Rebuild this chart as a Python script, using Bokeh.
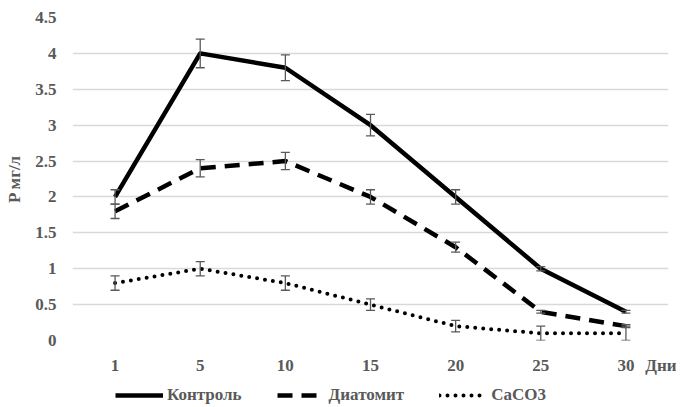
from bokeh.plotting import figure
from bokeh.models import Range1d, FixedTicker, Legend, LegendItem
from bokeh.layouts import column
from bokeh.embed import file_html
from bokeh.resources import INLINE

days = ["1", "5", "10", "15", "20", "25", "30"]
x_unit_label = "Дни"
kontrol = [2.0, 4.0, 3.8, 3.0, 2.0, 1.0, 0.4]
kontrol_err = [0.1, 0.2, 0.18, 0.15, 0.1, 0.03, 0.02]
diatomit = [1.8, 2.4, 2.5, 2.0, 1.3, 0.4, 0.2]
diatomit_err = [0.1, 0.12, 0.12, 0.1, 0.07, 0.02, 0.02]
caco3 = [0.8, 1.0, 0.8, 0.5, 0.2, 0.1, 0.1]
caco3_err = [0.1, 0.1, 0.1, 0.08, 0.08, 0.1, 0.1]
y_ticks = [0, 0.5, 1, 1.5, 2, 2.5, 3, 3.5, 4, 4.5]
y_tick_labels = ["0", "0.5", "1", "1.5", "2", "2.5", "3", "3.5", "4", "4.5"]
series_names = ["Контроль", "Диатомит", "CaCO3"]

FONT = "Liberation Serif"
GRAY = "#595959"

styles = [dict(line_color="black", line_width=4.5, line_join="round"),
          dict(line_color="black", line_width=4.5, line_dash="15 9"),
          dict(line_color="black", line_width=4, line_dash="0 8", line_cap="round")]
series = [kontrol, diatomit, caco3]

xs = list(range(1, len(days) + 1))
unit_pos = len(days) + 0.41

p = figure(width=676, height=380, output_backend="svg", toolbar_location=None,
           x_range=Range1d(0.5, len(days) + 0.5), y_range=Range1d(0, 4.5),
           min_border_left=72, min_border_right=8, min_border_top=17, min_border_bottom=40)
p.outline_line_color = None
p.background_fill_color = "white"

# axes
p.xaxis.ticker = FixedTicker(ticks=xs + [unit_pos])
p.xaxis.major_label_overrides = {**{x: d for x, d in zip(xs, days)}, unit_pos: x_unit_label}
p.yaxis.ticker = FixedTicker(ticks=y_ticks)
p.yaxis.major_label_overrides = {t: l for t, l in zip(y_ticks, y_tick_labels)}
for ax in (p.xaxis, p.yaxis):
    ax.axis_line_color = None
    ax.major_tick_line_color = None
    ax.minor_tick_line_color = None
    ax.major_tick_out = 0
    ax.major_tick_in = 0
    ax.major_label_text_font = FONT
    ax.major_label_text_font_style = "bold"
    ax.major_label_text_font_size = "17px"
    ax.major_label_text_color = GRAY
p.xaxis.major_label_standoff = 15
p.yaxis.major_label_standoff = 16
p.yaxis.axis_label = "P мг/л"
p.yaxis.axis_label_text_font = FONT
p.yaxis.axis_label_text_font_style = "bold"
p.yaxis.axis_label_text_font_size = "17px"
p.yaxis.axis_label_text_color = GRAY
p.yaxis.axis_label_standoff = 8

p.xgrid.grid_line_color = None
p.ygrid.grid_line_color = "#d9d9d9"
p.ygrid.grid_line_width = 1.5

# series
for vals, st in zip(series, styles):
    p.line(xs, vals, **st)

# error bars
for vals, errs in ((kontrol, kontrol_err), (diatomit, diatomit_err), (caco3, caco3_err)):
    lo = [v - e for v, e in zip(vals, errs)]
    hi = [v + e for v, e in zip(vals, errs)]
    p.segment(x0=xs, y0=lo, x1=xs, y1=hi, line_color=GRAY, line_width=1.3)
    p.scatter(xs, lo, marker="dash", size=9, line_color=GRAY, line_width=1.3)
    p.scatter(xs, hi, marker="dash", size=9, line_color=GRAY, line_width=1.3)

# legend strip (its own small figure; the series lie outside its ranges, only the legend shows)
lg = figure(width=676, height=27, output_backend="svg", toolbar_location=None,
            x_range=Range1d(100, 101), y_range=Range1d(100, 101),
            min_border_left=0, min_border_right=0, min_border_top=0, min_border_bottom=0)
lg.axis.visible = False
lg.grid.visible = False
lg.outline_line_color = None
items = []
for name, vals, st in zip(series_names, series, styles):
    r = lg.line(xs, vals, **st)
    items.append(LegendItem(label=name, renderers=[r]))
legend = Legend(items=items, orientation="horizontal", location=(43, 2),
                glyph_width=48, glyph_height=18, label_standoff=4, spacing=35,
                padding=0, margin=0, border_line_color=None,
                label_text_font=FONT, label_text_font_style="bold",
                label_text_font_size="17px", label_text_color=GRAY,
                background_fill_alpha=0)
lg.add_layout(legend)

open("out.html", "w").write(file_html(column(p, lg, spacing=0), INLINE))
